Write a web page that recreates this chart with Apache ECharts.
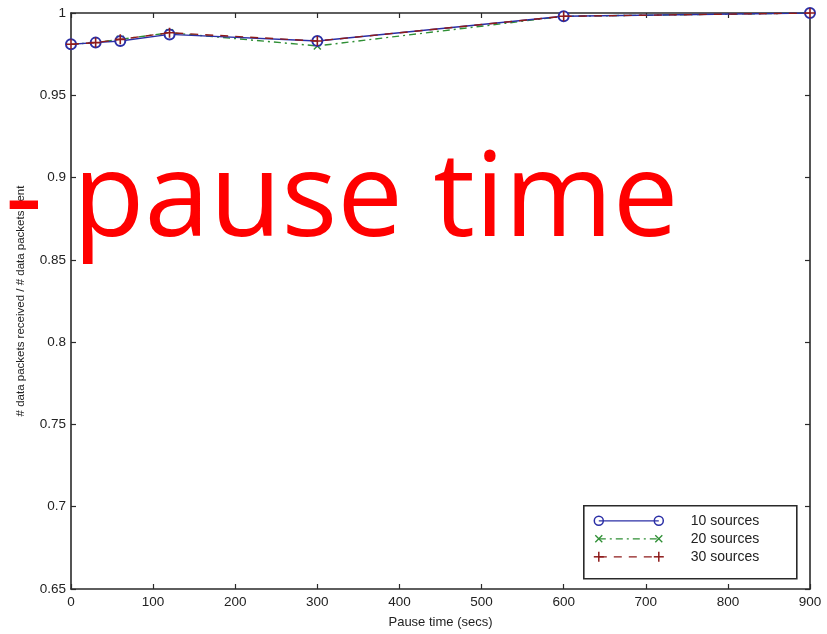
<!DOCTYPE html>
<html>
<head>
<meta charset="utf-8">
<script src="https://cdn.jsdelivr.net/npm/echarts@6/dist/echarts.min.js"></script>
<style>
  html, body { margin: 0; padding: 0; background: #fff; }
  #chart { width: 827px; height: 634px; }
</style>
</head>
<body>
<div id="chart"></div>
<script>
// Pause time (secs) on the x axis
const pauseTimes = [0, 30, 60, 120, 300, 600, 900];
// Delivery ratio: received / sent, per number of sources
const sources10 = [0.981, 0.982, 0.983, 0.987, 0.983, 0.998, 1.0];
const sources20 = [0.981, 0.982, 0.984, 0.988, 0.980, 0.998, 1.0];
const sources30 = [0.981, 0.982, 0.984, 0.988, 0.983, 0.998, 1.0];
const seriesNames = ['10 sources', '20 sources', '30 sources'];

const xRange = { min: 0, max: 900, interval: 100 };
const yRange = { min: 0.65, max: 1, interval: 0.05 };

const BLUE = '#2b2fa6';
const GREEN = '#2f8f35';
const RED = '#8e1b1b';
const AXIS = '#2a2a2a';
const LABEL_FONT = 'Liberation Sans, Arial, sans-serif';

const crossPath = 'path://M0,0L10,10M10,0L0,10';
const plusPath = 'path://M5,0L5,10M0,5L10,5';

const pairs = arr => pauseTimes.map((t, i) => [t, arr[i]]);

function boxAxis(pos, isX, showLabels) {
  const base = isX ? xRange : yRange;
  return {
    type: 'value',
    position: pos,
    min: base.min, max: base.max, interval: base.interval,
    axisLine: { show: true, onZero: false, lineStyle: { color: AXIS, width: 1.6 } },
    axisTick: { show: true, inside: true, length: 5, lineStyle: { color: AXIS, width: 1.2 } },
    splitLine: { show: false },
    axisLabel: showLabels ? {
      show: true, color: '#222', fontFamily: LABEL_FONT, fontSize: 13.5,
      margin: isX ? 6 : 5,
      formatter: v => String(+v.toFixed(2))
    } : { show: false }
  };
}

const chart = echarts.init(document.getElementById('chart'), null, { renderer: 'canvas' });

// Legend box, drawn as a framed group at the lower right of the plot
const legendRows = [
  { name: seriesNames[0], color: BLUE, dash: null, mark: 'circle' },
  { name: seriesNames[1], color: GREEN, dash: [7, 4, 2, 4], mark: 'cross' },
  { name: seriesNames[2], color: RED, dash: [8, 7], mark: 'plus' }
];
const legendItems = [{
  type: 'rect', shape: { x: 0, y: 0, width: 213, height: 73 },
  style: { fill: '#fff', stroke: AXIS, lineWidth: 1.6 }
}];
legendRows.forEach((r, i) => {
  const y = 15 + i * 18;
  legendItems.push({
    type: 'line', shape: { x1: 15, y1: y, x2: 75, y2: y },
    style: { stroke: r.color, lineWidth: 1.3, lineDash: r.dash }
  });
  [15, 75].forEach(cx => {
    if (r.mark === 'circle') {
      legendItems.push({ type: 'circle', shape: { cx, cy: y, r: 4.5 }, style: { fill: 'none', stroke: r.color, lineWidth: 1.5 } });
    } else if (r.mark === 'cross') {
      legendItems.push({ type: 'polyline', shape: { points: [[cx - 3.5, y - 3.5], [cx + 3.5, y + 3.5]] }, style: { stroke: r.color, lineWidth: 1.3 } });
      legendItems.push({ type: 'polyline', shape: { points: [[cx + 3.5, y - 3.5], [cx - 3.5, y + 3.5]] }, style: { stroke: r.color, lineWidth: 1.3 } });
    } else {
      legendItems.push({ type: 'polyline', shape: { points: [[cx, y - 5], [cx, y + 5]] }, style: { stroke: r.color, lineWidth: 1.5 } });
      legendItems.push({ type: 'polyline', shape: { points: [[cx - 5, y], [cx + 5, y]] }, style: { stroke: r.color, lineWidth: 1.5 } });
    }
  });
  legendItems.push({
    type: 'text',
    style: { x: 107, y, text: r.name, fill: '#222', font: '14px ' + LABEL_FONT, verticalAlign: 'middle', align: 'left' }
  });
});

chart.setOption({
  animation: false,
  backgroundColor: '#fff',
  grid: { left: 71, right: 17, top: 13, bottom: 44, containLabel: false },
  xAxis: [
    Object.assign(boxAxis('bottom', true, true), {
      name: 'Pause time (secs)', nameLocation: 'middle', nameGap: 27,
      nameTextStyle: { color: '#222', fontFamily: LABEL_FONT, fontSize: 13 }
    }),
    boxAxis('top', true, false)
  ],
  yAxis: [
    Object.assign(boxAxis('left', false, true), {
      name: '# data packets received / # data packets sent', nameLocation: 'middle', nameGap: 44,
      nameTextStyle: { color: '#222', fontFamily: LABEL_FONT, fontSize: 11.5 }
    }),
    boxAxis('right', false, false)
  ],
  series: [
    {
      name: seriesNames[0], type: 'line', data: pairs(sources10), z: 3,
      symbol: 'emptyCircle', symbolSize: 10,
      lineStyle: { color: BLUE, width: 1.4 },
      itemStyle: { color: BLUE, borderColor: BLUE, borderWidth: 1.6 }
    },
    {
      name: seriesNames[1], type: 'line', data: pairs(sources20), z: 2,
      symbol: crossPath, symbolSize: 7,
      lineStyle: { color: GREEN, width: 1.4, type: [7, 4, 2, 4] },
      itemStyle: { color: 'none', borderColor: GREEN, borderWidth: 1.4 }
    },
    {
      name: seriesNames[2], type: 'line', data: pairs(sources30), z: 4,
      symbol: plusPath, symbolSize: 10,
      lineStyle: { color: RED, width: 1.4, type: [8, 7] },
      itemStyle: { color: 'none', borderColor: RED, borderWidth: 1.6 }
    }
  ],
  graphic: [
    { type: 'group', left: 583, top: 505, children: legendItems, z: 10 },
    {
      type: 'text', z: 20,
      style: {
        x: 5, y: 261, text: '- pause time', fill: '#ff0000',
        font: '117px "Open Sans", "Noto Sans", sans-serif',
        align: 'left', verticalAlign: 'bottom'
      }
    }
  ]
});
</script>
</body>
</html>
